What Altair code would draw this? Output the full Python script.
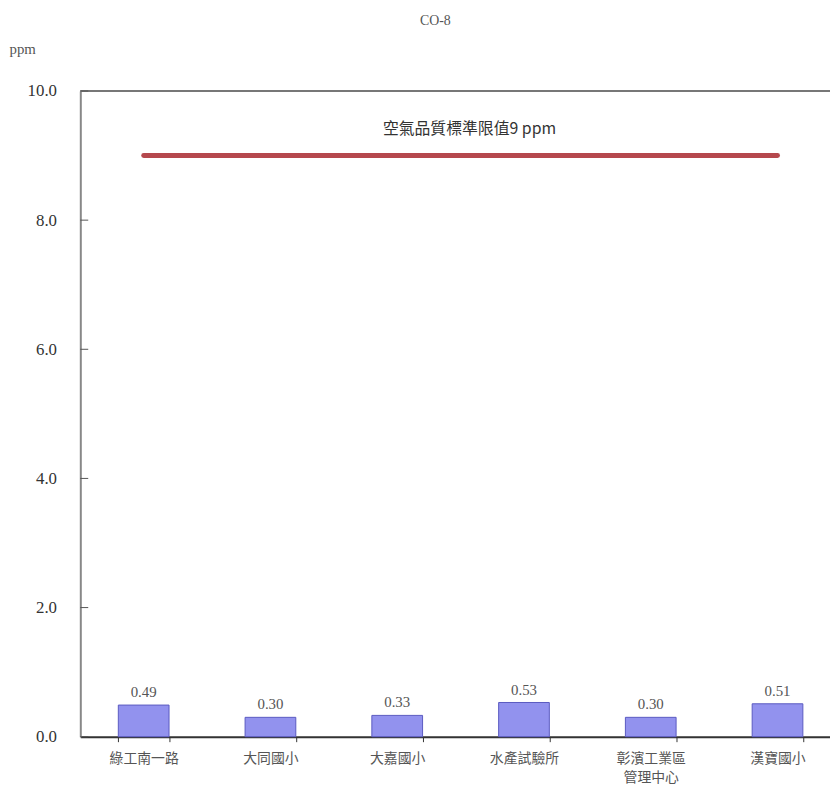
import altair as alt
import pandas as pd

stations = ["綠工南一路", "大同國小", "大嘉國小", "水產試驗所", "彰濱工業區\n管理中心", "漢寶國小"]
values = [0.49, 0.30, 0.33, 0.53, 0.30, 0.51]
y_ticks = [0, 2, 4, 6, 8, 10]
limit_value = 9
limit_label = "空氣品質標準限值9 ppm"

df = pd.DataFrame({"station": stations, "value": values})
df_limit = pd.DataFrame({"s1": [stations[0]], "s2": [stations[-1]], "y": [limit_value]})
df_ticks = pd.DataFrame({"y": y_ticks})

W, H = 757, 652
xscale = alt.Scale(domain=stations, range=[0, 768], paddingInner=0.6, paddingOuter=0.3)
yscale = alt.Scale(domain=[0, 10], nice=False)

base = alt.Chart(df)

bars = base.mark_bar(color="#9292ee", stroke="#5a5ac0", strokeWidth=1).encode(
    x=alt.X("station:N", scale=xscale, sort=stations,
            axis=alt.Axis(title=None, labelAngle=0, labelFont="Noto Sans CJK TC",
                          labelFontSize=14, labelColor="#555", labelPadding=10,
                          labelExpr="split(datum.label, '\\n')", labelLineHeight=19,
                          domainColor="#333", domainWidth=2, tickBand="extent",
                          tickColor="#333", tickSize=5, labelBaseline="top")),
    y=alt.Y("value:Q", scale=yscale,
            axis=alt.Axis(values=y_ticks, format=".1f", title="ppm", titleAngle=0,
                          titleX=-72, titleY=-43, titleAlign="left", titleBaseline="middle",
                          titleFont="Liberation Serif", titleFontSize=15, titleFontWeight="normal",
                          titleColor="#555", labelFont="Liberation Serif", labelFontSize=17,
                          labelColor="#333", labelPadding=24, ticks=False,
                          domainColor="#888", domainWidth=2, grid=False)),
)

labels = base.mark_text(font="Liberation Serif", fontSize=15, color="#555", dy=-13).encode(
    x=alt.X("station:N", scale=xscale, sort=stations),
    y=alt.Y("value:Q", scale=yscale),
    text=alt.Text("value:Q", format=".2f"),
)

limit = alt.Chart(df_limit).mark_rule(color="#b5484d", strokeWidth=5, strokeCap="round").encode(
    x=alt.X("s1:N", scale=xscale, sort=stations),
    x2="s2:N",
    y=alt.Y("y:Q", scale=yscale),
)

limit_text = alt.Chart(df_limit).mark_text(font="Noto Sans CJK TC", fontSize=16, color="#333").encode(
    x=alt.value(393),
    y=alt.value(38),
    text=alt.value(limit_label),
)

yticks = alt.Chart(df_ticks).mark_rule(color="#555", strokeWidth=1).encode(
    x=alt.value(0), x2=alt.value(8),
    y=alt.Y("y:Q", scale=yscale),
)

top_border = alt.Chart(pd.DataFrame({"y": [10]})).mark_rule(color="#777", strokeWidth=2).encode(
    x=alt.value(0), x2=alt.value(768),
    y=alt.Y("y:Q", scale=yscale),
)

chart = alt.layer(top_border, yticks, bars, labels, limit, limit_text).properties(
    width=W, height=H,
    autosize=alt.AutoSizeParams(type="none"),
    padding={"left": 73, "top": 80, "right": 0, "bottom": 50},
    title=alt.TitleParams("CO-8", font="Liberation Serif", fontSize=14, fontWeight="normal",
                          color="#555", anchor="middle", dx=-20, offset=14),
).configure_view(stroke=None).configure(background="white")

chart.save("out.html", embed_options={"renderer": "svg", "actions": False})
